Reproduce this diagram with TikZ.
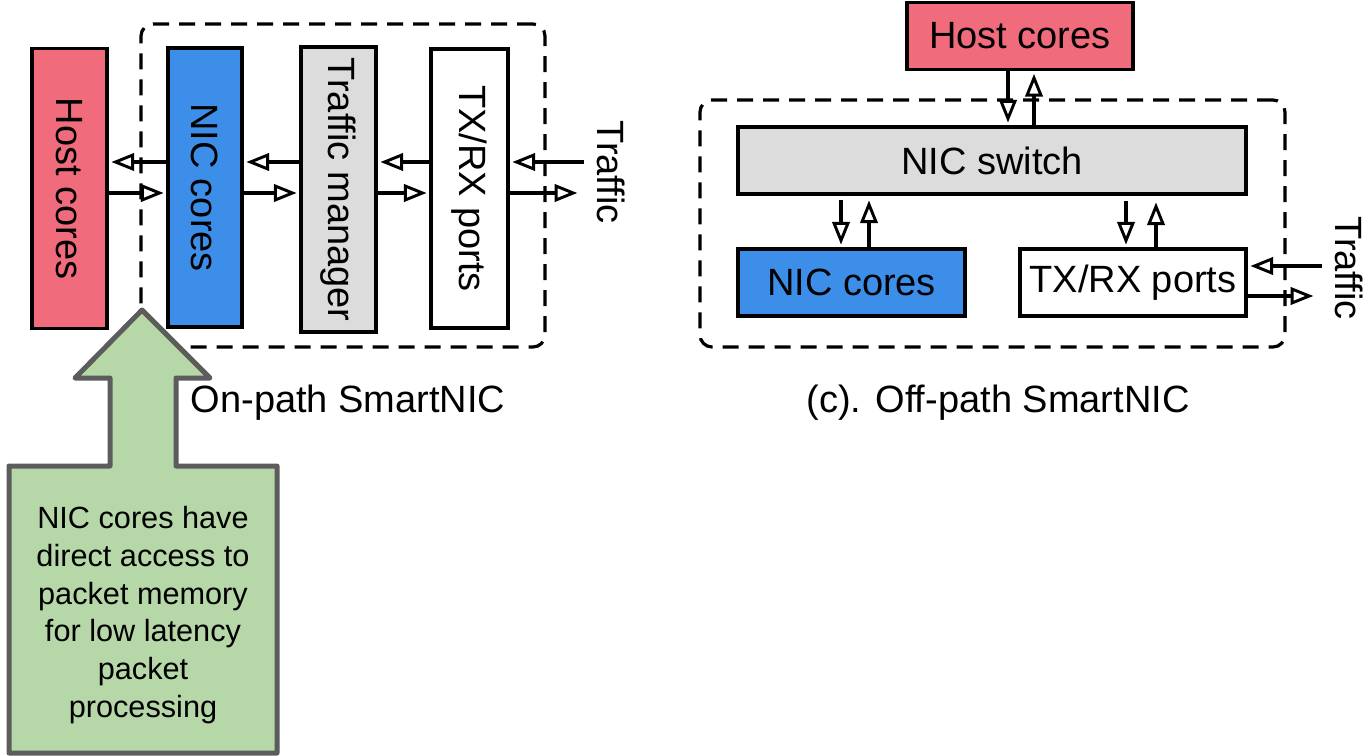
\documentclass[tikz,border=0pt]{standalone}
\usepackage{fontspec}
\setmainfont{Liberation Sans}
\usetikzlibrary{arrows.meta}
\definecolor{hostred}{HTML}{F06C7D}
\definecolor{nicblue}{HTML}{3D8EE8}
\definecolor{tmgray}{HTML}{DCDCDC}
\definecolor{notegreen}{HTML}{B6D7A8}
\definecolor{noteedge}{HTML}{5C5C5C}

\begin{document}
\begin{tikzpicture}[x=0.75pt,y=-0.75pt,
  every node/.style={font=\fontsize{28.5}{34}\selectfont, inner sep=0pt},
  block/.style={draw, line width=2.6pt, inner sep=0pt},
  frame/.style={draw, line width=2.4pt, dash pattern=on 12pt off 7.5pt, rounded corners=9pt, inner sep=0pt},
  tip/.tip={Triangle[open, length=17pt, width=13pt, line width=2.2pt]},
  flow/.style={line width=2.4pt, shorten >=2pt, -tip},
  note/.style={font=\fontsize{23}{28.3}\selectfont, align=center},
]
\useasboundingbox (0,0) rectangle (1368,756);

% ---------- on-path SmartNIC ----------
\node[frame, minimum width=404*0.75pt, minimum height=323*0.75pt] (lframe) at (343,185.5) {};
\node[block, fill=hostred, minimum width=75*0.75pt, minimum height=280*0.75pt] (lhost) at (69.5,188.5) {};
\node[block, fill=nicblue, minimum width=74*0.75pt, minimum height=279*0.75pt] (lnic) at (205,187.5) {};
\node[block, fill=tmgray, minimum width=75*0.75pt, minimum height=285*0.75pt] (ltm) at (338.5,189.5) {};
\node[block, fill=white, minimum width=77*0.75pt, minimum height=279*0.75pt] (ltx) at (469.5,188.5) {};

\node[rotate=-90] (lhosttxt) at (lhost) {Host cores};
\node[rotate=-90] (lnictxt) at (lnic) {NIC cores};
\node[rotate=-90] (ltmtxt) at (ltm) {Traffic manager};
\node[rotate=-90] (ltxtxt) at (ltx) {TX/RX ports};

\coordinate (rowin) at (0,162);
\coordinate (rowout) at (0,193);
\coordinate (ltin) at (584,162);
\coordinate (ltout) at (580,193);

\draw[flow] (lnic.west |- rowin) -- (lhost.east |- rowin);
\draw[flow] (lhost.east |- rowout) -- (lnic.west |- rowout);
\draw[flow] (ltm.west |- rowin) -- (lnic.east |- rowin);
\draw[flow] (lnic.east |- rowout) -- (ltm.west |- rowout);
\draw[flow] (ltx.west |- rowin) -- (ltm.east |- rowin);
\draw[flow] (ltm.east |- rowout) -- (ltx.west |- rowout);
\draw[flow] (ltin) -- (ltx.east |- ltin);
\draw[flow] (ltx.east |- ltout) -- (ltout);

\node[rotate=-90] (ltraffic) at (611,172) {Traffic};
\node[anchor=base] (lcap) at (348,412) {On-path SmartNIC};

% ---------- off-path SmartNIC ----------
\node[frame, minimum width=585*0.75pt, minimum height=247*0.75pt] (rframe) at (992.5,223.5) {};
\node[block, fill=hostred, minimum width=226*0.75pt, minimum height=67*0.75pt] (rhost) at (1020,36) {Host cores};
\node[block, fill=tmgray, minimum width=508*0.75pt, minimum height=67*0.75pt] (rswitch) at (992,160.5) {NIC switch};
\node[block, fill=nicblue, minimum width=227*0.75pt, minimum height=67*0.75pt] (rnic) at (851.5,282.5) {NIC cores};
\node[block, fill=white, minimum width=226*0.75pt, minimum height=67*0.75pt] (rtx) at (1133,282.5) {TX/RX ports};

\coordinate (hd) at (1008,0);
\coordinate (hu) at (1034,0);
\coordinate (nd) at (841,0);
\coordinate (nu) at (869,0);
\coordinate (td) at (1126,0);
\coordinate (tu) at (1156,0);
\coordinate (rtin) at (1322,266);
\coordinate (rtout) at (1316,296);

\draw[flow] (rhost.south -| hd) -- (rswitch.north -| hd);
\draw[flow] (rswitch.north -| hu) -- (rhost.south -| hu);
\draw[flow] ([yshift=-3pt]rswitch.south -| nd) -- (rnic.north -| nd);
\draw[flow] (rnic.north -| nu) -- ([yshift=-1.5pt]rswitch.south -| nu);
\draw[flow] ([yshift=-4pt]rswitch.south -| td) -- (rtx.north -| td);
\draw[flow] (rtx.north -| tu) -- ([yshift=-3pt]rswitch.south -| tu);
\draw[flow] (rtin) -- (rtx.east |- rtin);
\draw[flow] (rtx.east |- rtout) -- (rtout);

\node[rotate=-90] (rtraffic) at (1349,268) {Traffic};
\node[anchor=base] (rcap) at (998,412) {(c). Off-path SmartNIC};

% ---------- callout ----------
\draw[line width=3.75pt, draw=noteedge, fill=notegreen, line join=round]
  (142,310) -- (210,378) -- (176,378) -- (176,466) -- (277,466) -- (277,753)
  -- (9,753) -- (9,466) -- (110,466) -- (110,378) -- (75,378) -- cycle;
\node[note] (notetxt) at (143,615) {NIC cores have\\direct access to\\packet memory\\for low latency\\packet\\processing};
\end{tikzpicture}
\end{document}
